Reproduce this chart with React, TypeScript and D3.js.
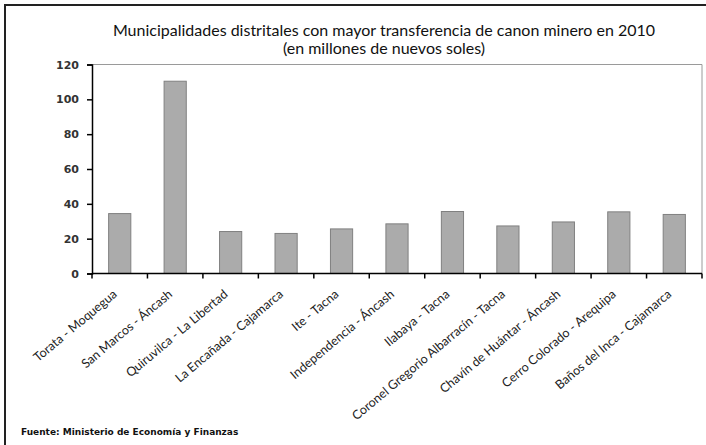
import { useEffect, useRef } from "react";
import * as d3 from "d3";

const categories = [
  "Torata - Moquegua",
  "San Marcos - Áncash",
  "Quiruvilca - La Libertad",
  "La Encañada - Cajamarca",
  "Ite - Tacna",
  "Independencia - Áncash",
  "Ilabaya - Tacna",
  "Coronel Gregorio Albarracín - Tacna",
  "Chavín de Huántar - Áncash",
  "Cerro Colorado - Arequipa",
  "Baños del Inca - Cajamarca",
];
const values = [34.4, 110.4, 24.1, 23.0, 25.6, 28.5, 35.6, 27.3, 29.6, 35.4, 33.9];
const yTicks = [0, 20, 40, 60, 80, 100, 120];
const titleLines = [
  "Municipalidades distritales con mayor transferencia de canon minero en 2010",
  "(en millones de nuevos soles)",
];
const source = "Fuente: Ministerio de Economía y Finanzas";

export default function App() {
  const svgRef = useRef<SVGSVGElement>(null);

  useEffect(() => {
    const width = 706;
    const height = 445;
    const plot = { left: 92, right: 702, top: 64.5, bottom: 273.5 };

    const svg = d3.select(svgRef.current);
    svg.selectAll("*").remove();

    svg.append("rect").attr("width", width).attr("height", height).attr("fill", "#fff");

    // outer chart frame (cropped at right/bottom)
    svg
      .append("rect")
      .attr("x", 5)
      .attr("y", 5)
      .attr("width", width + 20)
      .attr("height", height + 20)
      .attr("fill", "none")
      .attr("stroke", "#222")
      .attr("stroke-width", 2);

    const x = d3
      .scaleBand<string>()
      .domain(categories)
      .range([plot.left, plot.right])
      .paddingInner(0.6)
      .paddingOuter(0.3);

    const y = d3.scaleLinear().domain([0, 120]).range([plot.bottom, plot.top]);

    // plot area border
    svg
      .append("path")
      .attr("d", `M${plot.left},${plot.top}H${plot.right}V${plot.bottom}`)
      .attr("fill", "none")
      .attr("stroke", "#9a9a9a")
      .attr("stroke-width", 1);

    svg
      .append("g")
      .selectAll("rect")
      .data(values)
      .join("rect")
      .attr("x", (_, i) => x(categories[i])!)
      .attr("y", (d) => y(d))
      .attr("width", x.bandwidth())
      .attr("height", (d) => y(0) - y(d))
      .attr("fill", "#ababab")
      .attr("stroke", "#808080")
      .attr("stroke-width", 1);

    // y axis
    const yAxis = svg
      .append("g")
      .attr("transform", `translate(${plot.left},0)`)
      .call(d3.axisLeft(y).tickValues(yTicks).tickSize(5).tickPadding(8));
    yAxis.select(".domain").attr("stroke", "#000").attr("stroke-width", 1.5);
    yAxis.selectAll(".tick line").attr("stroke", "#000").attr("stroke-width", 1.5);
    yAxis
      .selectAll(".tick text")
      .attr("font-family", "DejaVu Sans, Verdana, sans-serif")
      .attr("font-weight", "bold")
      .attr("font-size", 11)
      .attr("fill", "#333");

    // x axis: ticks at category boundaries
    const step = x.step();
    const boundaries = categories.map((c) => x(c)! - (step * x.paddingInner()) / 2).concat([plot.right]);
    const xAxis = svg.append("g");
    xAxis
      .append("line")
      .attr("x1", plot.left)
      .attr("x2", plot.right)
      .attr("y1", y(0))
      .attr("y2", y(0))
      .attr("stroke", "#000")
      .attr("stroke-width", 1.5);
    xAxis
      .selectAll("line.tick")
      .data(boundaries)
      .join("line")
      .attr("class", "tick")
      .attr("x1", (d) => d)
      .attr("x2", (d) => d)
      .attr("y1", y(0))
      .attr("y2", y(0) + 5)
      .attr("stroke", "#000")
      .attr("stroke-width", 1.5);

    // rotated category labels (the source image is slightly stretched sideways, so ~40°)
    xAxis
      .selectAll("text")
      .data(categories)
      .join("text")
      .attr("transform", (d) => `translate(${x(d)! + x.bandwidth() / 2 - 2},${y(0) + 22}) rotate(-40)`)
      .attr("text-anchor", "end")
      .attr("font-family", "Lato, 'Open Sans', sans-serif")
      .attr("font-size", 12.5)
      .attr("fill", "#222")
      .text((d) => d);

    // title
    svg
      .append("g")
      .selectAll("text")
      .data(titleLines)
      .join("text")
      .attr("x", 384)
      .attr("y", (_, i) => 36 + i * 17.5)
      .attr("text-anchor", "middle")
      .attr("font-family", "Lato, 'Open Sans', sans-serif")
      .attr("font-size", 16)
      .attr("fill", "#111")
      .text((d) => d);

    svg
      .append("text")
      .attr("x", 21)
      .attr("y", 435)
      .attr("font-family", "DejaVu Sans, Verdana, sans-serif")
      .attr("font-weight", "bold")
      .attr("font-size", 9)
      .attr("fill", "#111")
      .text(source);
  }, []);

  return (
    <svg
      ref={svgRef}
      width={706}
      height={445}
      style={{ position: "absolute", left: 0, top: 0, display: "block" }}
    />
  );
}
